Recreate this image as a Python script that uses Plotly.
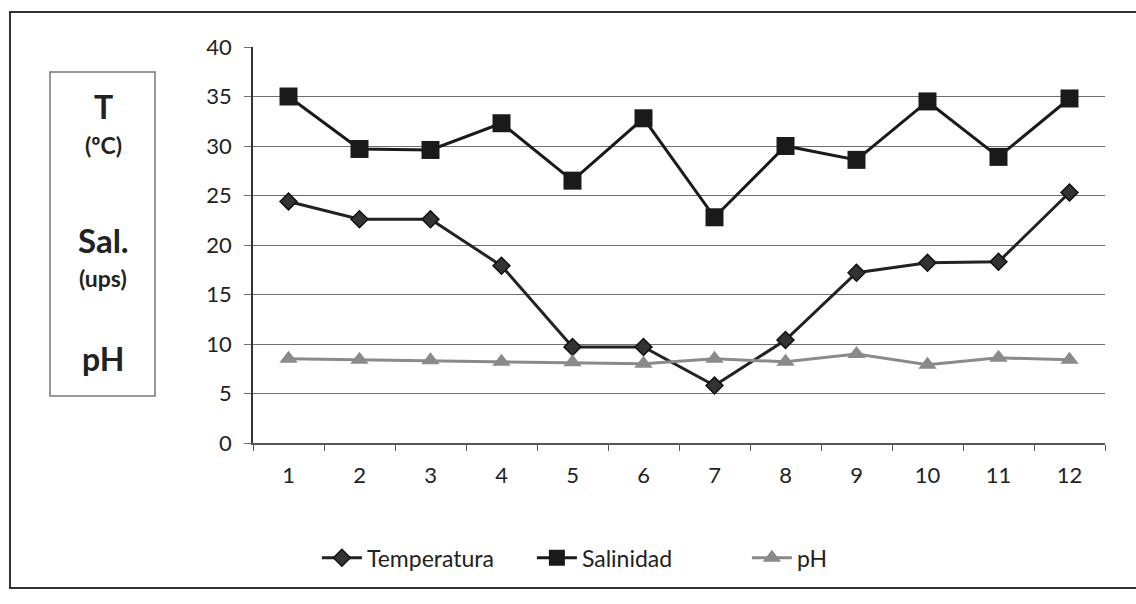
import plotly.graph_objects as go

categories = ["1", "2", "3", "4", "5", "6", "7", "8", "9", "10", "11", "12"]
temperatura = [24.4, 22.6, 22.6, 17.9, 9.7, 9.7, 5.8, 10.4, 17.2, 18.2, 18.3, 25.3]
salinidad = [35.0, 29.7, 29.6, 32.3, 26.5, 32.8, 22.8, 30.0, 28.6, 34.5, 28.9, 34.8]
ph = [8.5, 8.4, 8.35, 8.2, 8.15, 8.0, 8.5, 8.2, 9.0, 7.9, 8.6, 8.4]
y_ticks = [0, 5, 10, 15, 20, 25, 30, 35, 40]

FONT = "Lato"

fig = go.Figure()
fig.add_trace(go.Scatter(
    x=categories, y=temperatura, name="Temperatura", mode="lines+markers",
    line=dict(color="#222222", width=3),
    marker=dict(symbol="diamond", size=13, color="#333333", line=dict(color="#111111", width=1.5)),
))
fig.add_trace(go.Scatter(
    x=categories, y=salinidad, name="Salinidad", mode="lines+markers",
    line=dict(color="#1a1a1a", width=3),
    marker=dict(symbol="square", size=18, color="#1a1a1a"),
))
fig.add_trace(go.Scatter(
    x=categories, y=ph, name="pH", mode="lines+markers",
    line=dict(color="#8a8a8a", width=3),
    marker=dict(symbol="triangle-up", size=16, color="#8a8a8a"),
))

fig.update_layout(
    width=1136, height=604,
    margin=dict(l=253, r=31, t=47, b=161),
    paper_bgcolor="white", plot_bgcolor="white",
    font=dict(family=FONT, size=20, color="#222222"),
    showlegend=True,
    legend=dict(orientation="h", x=0.075, y=-0.29, xanchor="left", yanchor="middle",
                font=dict(family=FONT, size=23, color="#222222"),
                itemwidth=40, entrywidth=160, traceorder="normal"),
    xaxis=dict(
        type="category", categoryorder="array", categoryarray=categories,
        range=[-0.5, 11.5],
        showgrid=False, showline=True, linecolor="#555555", linewidth=1.5,
        ticks="outside", tickson="boundaries", ticklen=6, tickcolor="#555555",
        tickfont=dict(family=FONT, size=22, color="#222222"),
        ticklabelstandoff=12,
        zeroline=False,
    ),
    yaxis=dict(
        range=[0, 40], tickvals=y_ticks, ticktext=[str(v) for v in y_ticks],
        showgrid=True, gridcolor="#707070", gridwidth=1,
        showline=True, linecolor="#333333", linewidth=1.5,
        ticks="outside", ticklen=7, tickcolor="#707070",
        tickfont=dict(family=FONT, size=22, color="#222222"),
        ticklabelstandoff=8,
        zeroline=False,
    ),
)

# outer frame
fig.add_shape(type="rect", xref="paper", yref="paper",
              x0=-243/852, x1=1101/852, y0=(443-588)/396, y1=(443-12)/396,
              line=dict(color="#333333", width=2), fillcolor="rgba(0,0,0,0)", layer="below")
# left label box
fig.add_shape(type="rect", xref="paper", yref="paper",
              x0=-203/852, x1=-98/852, y0=(443-396)/396, y1=(443-72)/396,
              line=dict(color="#777777", width=1.5), fillcolor="rgba(0,0,0,0)")

labels = [("T", 106, 32), ("(ºC)", 145, 23), ("Sal.", 240, 33), ("(ups)", 278, 23), ("pH", 358, 32)]
for txt, ypx, sz in labels:
    fig.add_annotation(xref="paper", yref="paper", x=-150/852, y=(443-ypx)/396,
                       text="<b>%s</b>" % txt, showarrow=False,
                       font=dict(family=FONT, size=sz, color="#222222"),
                       xanchor="center", yanchor="middle")

fig.write_html("out.html")
